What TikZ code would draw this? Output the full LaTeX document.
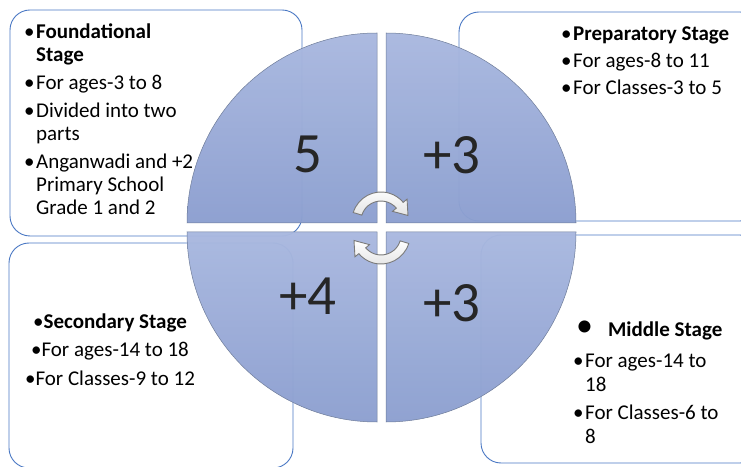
\documentclass[tikz,border=0pt]{standalone}
\usepackage{fontspec}
\setmainfont{Carlito}
\usepackage{xcolor}
\usetikzlibrary{positioning}

\definecolor{boxblue}{HTML}{4A78C4}
\definecolor{quadtop}{HTML}{A9B8DF}
\definecolor{quadbot}{HTML}{8C9FD0}
\definecolor{quadedge}{HTML}{6E7C99}
\definecolor{turngray}{HTML}{7A7A7A}

\begin{document}
\begin{tikzpicture}[x=1pt, y=1pt,
    stagebox/.style={draw=boxblue, line width=0.9pt, fill=white, rounded corners=20pt},
    quarter/.style={draw=quadedge, line width=0.5pt, top color=quadtop, bottom color=quadbot, fill opacity=0.97},
    bignum/.style={font=\fontsize{57}{60}\selectfont, text=black!85, inner sep=0pt},
    stagetext/.style={font=\fontsize{21}{23}\selectfont, inner sep=0pt},
    turnarrow/.style={draw=turngray, line width=0.9pt, top color=white, bottom color=gray!22}]
    \clip (0,0) rectangle (741,466);

    % Boxes
    \draw[stagebox] (10,456) rectangle (302,230);
    \draw[stagebox] (459,454) rectangle (760,245);
    \draw[stagebox] (9,223) rectangle (293,-2);
    \draw[stagebox] (481,231) rectangle (760,3);

    % Quarters
    \draw[quarter] (377,243) -- ++(-190,0) arc[start angle=180, end angle=90, radius=190] -- cycle;
    \draw[quarter] (386,243) -- ++(0,190) arc[start angle=90, end angle=0, radius=190] -- cycle;
    \draw[quarter] (377,234) -- ++(0,-190) arc[start angle=270, end angle=180, radius=190] -- cycle;
    \draw[quarter] (386,234) -- ++(190,0) arc[start angle=0, end angle=-90, radius=190] -- cycle;

    \node[bignum] (nfound) at (308,312) {5};
    \node[bignum] (nprep) at (452,311) {+3};
    \node[bignum] (nsecond) at (308,170) {+4};
    \node[bignum] (nmiddle) at (452,163) {+3};

    % Turning arrows
    \foreach \cy/\rot in {245/0, 231/180}
        \draw[turnarrow, shift={(381,\cy)}, rotate=\rot]
            (163:20) -- (163:29) arc[start angle=163, end angle=40, radius=29]
            -- (40:34) -- (27,5.5) -- (40:15) -- (40:20)
            arc[start angle=40, end angle=163, radius=20] -- cycle;

    % Texts
    \node[stagetext, anchor=base west] (found) at (24,427) {\begin{tabular}[t]{@{}l@{\hspace{1.5pt}}l@{}}
        •&\textbf{Foundational}\\
        &\textbf{Stage}\\[5pt]
        •&For ages-3 to 8\\[5pt]
        •&Divided into two\\
        &parts\\[5pt]
        •&Anganwadi and +2\\
        &Primary School\\
        &Grade 1 and 2
    \end{tabular}};
    \node[stagetext, anchor=base west] (prep) at (561,425) {\begin{tabular}[t]{@{}l@{\hspace{1.5pt}}l@{}}
        •&\textbf{Preparatory Stage}\\[4pt]
        •&For ages-8 to 11\\[4pt]
        •&For Classes-3 to 5
    \end{tabular}};
    \node[stagetext, anchor=base] (second) at (110,137) {\begin{tabular}[t]{@{}c@{}}
        •\textbf{Secondary Stage}\\[5pt]
        •For ages-14 to 18\\[5pt]
        •For Classes-9 to 12
    \end{tabular}};
    \node[stagetext, anchor=base west] (midhead) at (576,130) {{\fontsize{34}{34}\selectfont •}\hspace{15pt}\textbf{Middle Stage}};
    \node[stagetext, anchor=base west] (middle) at (573,99) {\begin{tabular}[t]{@{}l@{\hspace{1.5pt}}l@{}}
        •&For ages-14 to\\[1pt]
        &18\\[5pt]
        •&For Classes-6 to\\[1pt]
        &8
    \end{tabular}};
\end{tikzpicture}
\end{document}
